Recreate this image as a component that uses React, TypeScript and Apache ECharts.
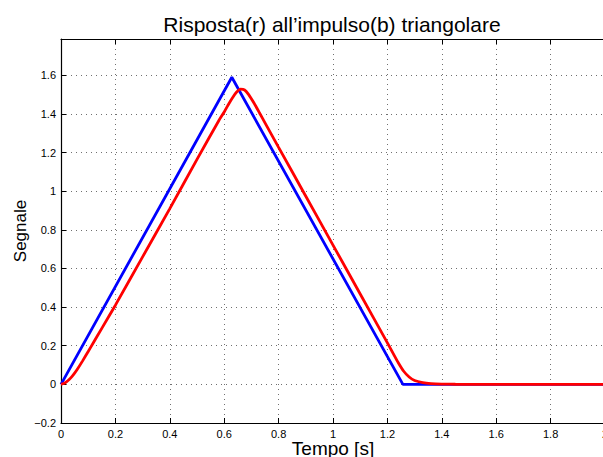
import React, { useEffect, useRef } from "react";
import * as echarts from "echarts";

const titleText = "Risposta(r) all’impulso(b) triangolare";
const xName = "Tempo [s]";
const yName = "Segnale";

// impulse (blue): triangle
const impulseT = [0, 0.628, 1.257, 2.0];
const impulseV = [0, 1.59, 0, 0];

// response (red)
const responseT = [
  0, 0.01, 0.02, 0.03, 0.04, 0.05, 0.06, 0.08, 0.1, 0.12, 0.15, 0.2, 0.3, 0.4, 0.5,
  0.58, 0.6, 0.615, 0.63, 0.645, 0.66, 0.675, 0.69, 0.71, 0.73, 0.75, 0.8, 0.9,
  1.0, 1.1, 1.2, 1.22, 1.24, 1.26, 1.28, 1.3, 1.33, 1.36, 1.4, 1.45, 1.5, 2.0,
];
const responseV = [
  0, 0.004, 0.013, 0.025, 0.04, 0.058, 0.078, 0.123, 0.17, 0.218, 0.29, 0.41, 0.66,
  0.91, 1.165, 1.365, 1.41, 1.448, 1.483, 1.512, 1.528, 1.524, 1.5, 1.455, 1.405,
  1.354, 1.227, 0.974, 0.721, 0.468, 0.215, 0.163, 0.112, 0.068, 0.038, 0.02, 0.009,
  0.004, 0.0015, 0.0005, 0, 0,
];

const fontFamily = "'Liberation Sans', Arial, Helvetica, sans-serif";

export default function App() {
  const ref = useRef<HTMLDivElement>(null);
  useEffect(() => {
    if (!ref.current) return;
    const chart = echarts.init(ref.current, undefined, {
      renderer: "svg",
      width: 603,
      height: 457,
    });
    const fmt = (v: number) => {
      const s = String(+v.toFixed(1));
      return s.replace("-", "\u2212");
    };
    const gridLine = {
      show: true,
      lineStyle: { color: "#707070", width: 1, type: [1, 4] as any },
    };
    chart.setOption({
      animation: false,
      backgroundColor: "#ffffff",
      textStyle: { fontFamily },
      title: {
        text: titleText,
        left: 327,
        textAlign: "center",
        top: 9,
        textStyle: { fontFamily, fontSize: 21, fontWeight: "normal", color: "#000" },
      },
      grid: {
        left: 61,
        top: 39,
        right: -2,
        bottom: 34,
        containLabel: false,
        outerBoundsMode: "none",
      },
      xAxis: [
        {
          type: "value",
          min: 0,
          max: 2,
          interval: 0.2,
          name: xName,
          nameLocation: "middle",
          nameGap: 16,
          nameMoveOverlap: false,
          nameTextStyle: { fontFamily, fontSize: 19, color: "#000" },
          axisLine: { show: true, onZero: false, lineStyle: { color: "#000", width: 1.2 } },
          axisTick: { show: true, inside: true, length: 5, lineStyle: { color: "#000" } },
          axisLabel: { fontFamily, fontSize: 11, color: "#000", margin: 5, formatter: fmt },
          splitLine: gridLine,
        },
        {
          type: "value",
          position: "top",
          min: 0,
          max: 2,
          interval: 0.2,
          axisLine: { show: true, onZero: false, lineStyle: { color: "#000", width: 1.2 } },
          axisTick: { show: true, inside: true, length: 5, lineStyle: { color: "#000" } },
          axisLabel: { show: false },
          splitLine: { show: false },
        },
      ],
      yAxis: {
        type: "value",
        min: -0.2,
        max: 1.788,
        interval: 0.2,
        name: yName,
        nameLocation: "middle",
        nameGap: 32,
        nameMoveOverlap: false,
        nameTextStyle: { fontFamily, fontSize: 17, color: "#000" },
        axisLine: { show: true, onZero: false, lineStyle: { color: "#000", width: 1.2 } },
        axisTick: { show: true, inside: true, length: 5, lineStyle: { color: "#000" } },
        axisLabel: {
          fontFamily,
          fontSize: 11,
          color: "#000",
          margin: 5,
          showMaxLabel: false,
          formatter: fmt,
        },
        splitLine: gridLine,
      },
      series: [
        {
          type: "line",
          name: "impulso",
          data: impulseT.map((t, i) => [t, impulseV[i]]),
          showSymbol: false,
          lineStyle: { color: "#0000ff", width: 2.8 },
          itemStyle: { color: "#0000ff" },
          z: 2,
        },
        {
          type: "line",
          name: "risposta",
          data: responseT.map((t, i) => [t, responseV[i]]),
          showSymbol: false,
          smooth: 0.2,
          lineStyle: { color: "#ff0000", width: 2.8 },
          itemStyle: { color: "#ff0000" },
          z: 3,
        },
      ],
    });
    return () => chart.dispose();
  }, []);
  return (
    <div
      ref={ref}
      style={{ position: "absolute", left: 0, top: 0, width: 603, height: 457, background: "#fff" }}
    />
  );
}
